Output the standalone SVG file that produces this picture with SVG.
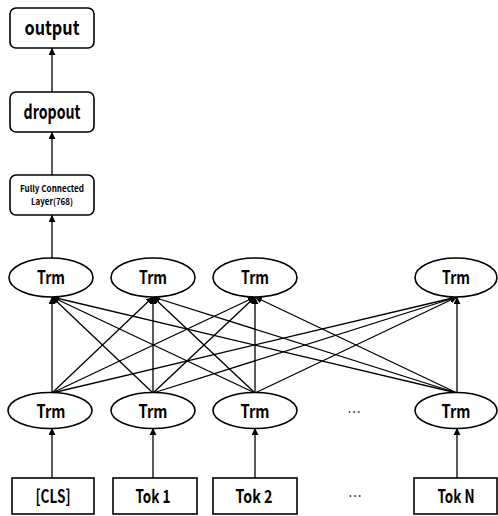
<svg xmlns="http://www.w3.org/2000/svg" width="498" height="516" viewBox="0 0 498 516">
<style>
.box{fill:#fff;stroke:#000;stroke-width:1.6}
.ell{fill:#fff;stroke:#000;stroke-width:1.6}
.t{font-family:"Noto Sans CJK KR","Liberation Sans",sans-serif;font-weight:bold;fill:#000;text-anchor:middle}
.big{font-size:20px}
.mid{font-size:18px}
.small{font-size:9px}
.dots{font-family:"Noto Sans CJK KR","DejaVu Sans",sans-serif;font-size:14px;fill:#000;text-anchor:middle}
.c line{stroke:#000;stroke-width:1.3;marker-end:url(#ah)}
</style>
<defs>
<marker id="ah" viewBox="0 0 10 10" refX="10" refY="5" markerWidth="7" markerHeight="7" markerUnits="userSpaceOnUse" orient="auto">
<path d="M0,0 L10,5 L0,10 z" fill="#000"/>
</marker>
</defs>
<g class="c" id="connectors">
<line x1="52" y1="175" x2="52" y2="132"/>
<line x1="52" y1="92" x2="52" y2="48"/>
<line x1="52" y1="258" x2="52" y2="215"/>
<line x1="52" y1="393" x2="52" y2="297"/>
<line x1="52" y1="393" x2="153" y2="297"/>
<line x1="52" y1="393" x2="255" y2="297"/>
<line x1="52" y1="393" x2="457" y2="297"/>
<line x1="153" y1="393" x2="52" y2="297"/>
<line x1="153" y1="393" x2="153" y2="297"/>
<line x1="153" y1="393" x2="255" y2="297"/>
<line x1="153" y1="393" x2="457" y2="297"/>
<line x1="255" y1="393" x2="52" y2="297"/>
<line x1="255" y1="393" x2="153" y2="297"/>
<line x1="255" y1="393" x2="255" y2="297"/>
<line x1="255" y1="393" x2="457" y2="297"/>
<line x1="457" y1="393" x2="52" y2="297"/>
<line x1="457" y1="393" x2="153" y2="297"/>
<line x1="457" y1="393" x2="255" y2="297"/>
<line x1="457" y1="393" x2="457" y2="297"/>
<line x1="52" y1="478" x2="52" y2="428"/>
<line x1="153" y1="478" x2="153" y2="428"/>
<line x1="255" y1="478" x2="255" y2="428"/>
<line x1="457" y1="478" x2="457" y2="428"/>
</g>
<g id="output"><rect class="box" x="10" y="8" width="84" height="40" rx="6"/><text class="t big" x="52" y="35" textLength="55" lengthAdjust="spacingAndGlyphs">output</text></g>
<g id="dropout"><rect class="box" x="10" y="92" width="84" height="40" rx="6"/><text class="t big" x="52" y="118.5" textLength="57" lengthAdjust="spacingAndGlyphs">dropout</text></g>
<g id="fc"><rect class="box" x="10" y="175" width="84" height="40" rx="6"/><text class="t small" x="52" y="192" textLength="64" lengthAdjust="spacingAndGlyphs">Fully Connected</text><text class="t small" x="52" y="205" textLength="42" lengthAdjust="spacingAndGlyphs">Layer(768)</text></g>
<g id="trm_top_1"><ellipse class="ell" cx="51" cy="277.5" rx="42" ry="19.5"/><text class="t mid" x="51" y="284" textLength="28" lengthAdjust="spacingAndGlyphs">Trm</text></g>
<g id="trm_top_2"><ellipse class="ell" cx="153" cy="277.5" rx="42" ry="19.5"/><text class="t mid" x="153" y="284" textLength="28" lengthAdjust="spacingAndGlyphs">Trm</text></g>
<g id="trm_top_3"><ellipse class="ell" cx="255" cy="277.5" rx="42" ry="19.5"/><text class="t mid" x="255" y="284" textLength="28" lengthAdjust="spacingAndGlyphs">Trm</text></g>
<g id="trm_top_4"><ellipse class="ell" cx="456" cy="277.5" rx="41" ry="19.5"/><text class="t mid" x="456" y="284" textLength="28" lengthAdjust="spacingAndGlyphs">Trm</text></g>
<g id="trm_bot_1"><ellipse class="ell" cx="50" cy="410.5" rx="42" ry="18"/><text class="t mid" x="51" y="417.5" textLength="29" lengthAdjust="spacingAndGlyphs">Trm</text></g>
<g id="trm_bot_2"><ellipse class="ell" cx="153" cy="410.5" rx="42" ry="18"/><text class="t mid" x="153" y="417.5" textLength="29" lengthAdjust="spacingAndGlyphs">Trm</text></g>
<g id="trm_bot_3"><ellipse class="ell" cx="255" cy="410.5" rx="42" ry="18"/><text class="t mid" x="255" y="417.5" textLength="29" lengthAdjust="spacingAndGlyphs">Trm</text></g>
<g id="trm_bot_4"><ellipse class="ell" cx="456" cy="410.5" rx="41" ry="18"/><text class="t mid" x="456" y="417.5" textLength="29" lengthAdjust="spacingAndGlyphs">Trm</text></g>
<g id="dots_mid"><text class="dots" x="354" y="417" textLength="14" lengthAdjust="spacingAndGlyphs">⋯</text></g>
<g id="cls"><rect class="box" x="12" y="478" width="82" height="36"/><text class="t mid" x="53" y="502.5" textLength="35" lengthAdjust="spacingAndGlyphs">[CLS]</text></g>
<g id="tok1"><rect class="box" x="113" y="478" width="84" height="36"/><text class="t mid" x="153" y="502.5" textLength="35" lengthAdjust="spacingAndGlyphs">Tok 1</text></g>
<g id="tok2"><rect class="box" x="213" y="478" width="84" height="36"/><text class="t mid" x="254" y="502.5" textLength="37" lengthAdjust="spacingAndGlyphs">Tok 2</text></g>
<g id="dots_bot"><text class="dots" x="355" y="501" textLength="14" lengthAdjust="spacingAndGlyphs">⋯</text></g>
<g id="tokn"><rect class="box" x="414" y="478" width="83" height="36"/><text class="t mid" x="456" y="502.5" textLength="37" lengthAdjust="spacingAndGlyphs">Tok N</text></g>
</svg>
